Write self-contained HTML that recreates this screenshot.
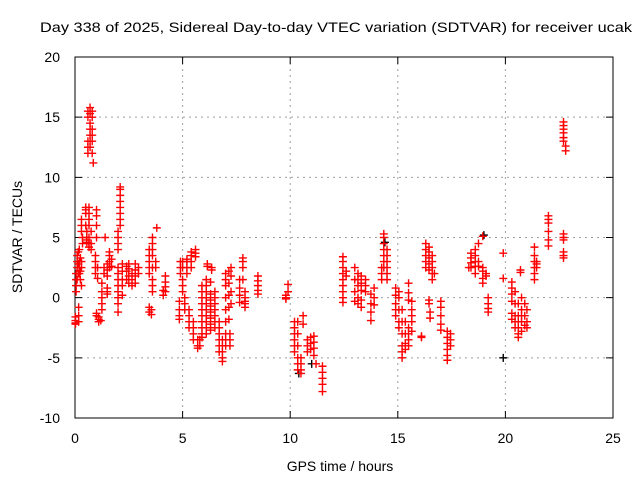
<!DOCTYPE html>
<html><head><meta charset="utf-8"><style>
html,body{margin:0;padding:0;background:#fff}
svg{display:block;font-family:"Liberation Sans",sans-serif}
</style></head><body>
<svg id="chart" width="640" height="480" viewBox="0 0 640 480" xmlns="http://www.w3.org/2000/svg">
<rect x="0" y="0" width="640" height="480" fill="#fff"/>
<text x="336" y="32" text-anchor="middle" font-size="14" textLength="592" lengthAdjust="spacingAndGlyphs">Day 338 of 2025, Sidereal Day-to-day VTEC variation (SDTVAR) for receiver ucak</text>
<g id="grid"></g>
<g id="axes"></g>
<g id="seriesB"></g>
<g id="seriesR"></g>
<text x="340" y="471" text-anchor="middle" font-size="14">GPS time / hours</text>
<text x="0" y="0" transform="translate(22,237) rotate(-90)" text-anchor="middle" font-size="14">SDTVAR / TECUs</text>
</svg>
<script>
const xTicks = [0, 5, 10, 15, 20, 25];
const yTicks = [-10, -5, 0, 5, 10, 15, 20];
const redTimes = [0.02,0.05,0.1,0.15,0.17,0.2,0.25,0.3,0.35,0.5,0.55,0.65,0.75,0.6,0.7,0.8,0.85,0.95,1.0,1.05,1.1,1.2,1.25,1.35,1.4,1.5,1.6,1.7,2.0,2.1,2.2,2.4,2.5,2.65,2.8,2.95,3.45,3.55,3.6,3.75,3.8,4.1,4.2,4.85,4.9,5.0,5.1,5.2,5.3,5.4,5.5,5.6,5.7,5.8,5.9,6.1,6.15,6.3,6.35,6.5,6.7,6.85,7.0,7.15,7.2,7.25,7.65,7.8,7.9,8.5,9.8,9.9,10.2,10.35,10.5,10.6,10.8,10.95,11.1,11.2,11.5,12.45,12.6,13.0,13.15,13.3,13.5,13.75,13.9,14.25,14.35,14.5,14.9,15.05,15.2,15.35,15.5,15.65,16.1,16.3,16.45,16.5,16.6,16.7,17.0,17.3,17.45,18.3,18.4,18.6,18.75,18.95,19.1,19.2,19.9,20.3,20.45,20.6,20.7,20.75,20.9,21.0,21.35,21.45,22.0,22.7,22.8];
const redValues = [
 [-1.6,-1.9,-2.1,-2.2],[0.5,1,1.5,2],[1.5,2.5,3,3.5],[2,2.8,3.8],[-0.8,-1.5,-2],[2,3,4,2.5],[1.5,2.2,3.3],[1,2.5,3,5.5,6,6.5],[4.5,5],
 [7.5,7.3,7,6],[5.5,5,4.8,4.6],[4.5,4.2,5,6,6.5,7,7.5],[4,4.5,5.5],[12,12.5,13,15,15.5],[15.8,15.3,14.5,14,13.5,13,12.5],[15.5,15,14,13.5,13,12],[11.2],
 [3.5,3,2.5,2],[-1.3,-1.5,7.3,6.8,6,5],[1.6,2.5],[-1.6,-1.8,-2],[-1.9],[1.2,0.5,0,-0.5,-1],[2,2.5],[5],[1.8,2.3,2.8,0.8,0.5,0.3],[3.8,3.5,3,2.5],[3.2,2.6],
 [5.5,5,4.5,4,2.5,2,1.5,1,0.5,0,-0.5,-1.2],[9.2,9,8.5,8,7.5,7,6.5,6],[2.8,2.2,1.5,1,0.2],[2.6,2.2,1.5],[2.8,2.4,1.8,1.2],[2,1.5,1],[2.8,2.3,1.8,1.2],[2.5,2.0],
 [2,2.5,3,3.5,4,-0.8,-1.2],[-1.0,-1.4],[3.5,4,4.5,5,2.5,1.5,1,0.5],[3,2.5],[5.8],[0.2,0.6],[1.8,1.3,0.9,0.5],
 [-0.3,-1,-1.5,-1.8],[2,2.5,3],[1,1.5,2.5,3,0.5],[0,-0.5,-1],[3,3.2,2.5,2],[-1,-1.5,-2,-2.5],[3.5,3.8,3,2.5],[-2,-2.5,-3,-3.5],[4,3.7,3.4],[-3.5,-4,-4.2],[-3.5,-4],
 [1,0,-1,-2,-3,-3.3,0.5,-0.5,-1.5,-2.5],[1.5,0.5,-0.5,-1.5,-2.5,-3,1,0,-1,-2],[2.8,2.6],[1.3,0.3,-0.7,-1.7,-2.7,-2.2,-1.2,-0.2],[2.5,2.3],[0.5,-0.5,-1.5,-2.5,-2,-1,0],
 [-2,-3,-4,-4.5,-2.5,-3.5],[-3.5,-4,-4.5,-5,-5.3],[2,1.5,1,0,-1,-2,-3.5,-4,-3],[2.2,1.2,0.2,-0.8,-1.8],[-3,-3.5,-4],[2.5,1.8,0.5,-0.5],
 [1.5,0.8,0.2,-0.4],[3.3,3,2.5,1.5],[0.5,-0.3,-0.8,0,-0.5],[1.8,1.4,1,0.6,0.3],[0,0.2,-0.1],[1.1,0.5],
 [-2,-2.5,-3,-3.5,-4,-4.5],[-2,-3,-4,-5,-5.5,-6],[-5,-5.5,-6,-6.3],[-1.5,-2.2],[-3.5,-4,-4.5],[-3.3,-3.8,-4.3],[-3.2,-3.7,-4.2,-4.8],[-5.5],[-5.7,-6.2,-6.7,-7.2,-7.8],
 [3.4,3,2.5,2,1.5,1,0.5,0,-0.4],[2.2,1.8],[2.5,1.5,0.5,-0.3],[2,1.5,1,0,-0.5],[1.8,1.2,0.6,-0.2,-0.8],[1.5,1,0.5],[0.3,-0.5,-1.2,-1.9],[0.8,0,-0.6],
 [1.5,2,2.5],[5.3,5,4.5,4,3.5,3,2.5],[4,3.5,3,2.5,2,1.5],[0.8,0.2,-0.5,-1,-1.5],[0.5,0,-1,-2,-2.5],[-1,-2,-3,-4,-4.5,-5],[-2,-3,-3.8,-4.3],[-2.5,-3,-3.5,-4,1.2,0.4,-0.2],[-0.3,-1,-1.5,-2,-2.8],
 [-3.2,-3.3],[4.5,4,3.5,3,2.5],[4.2,3.8,3.3,2.8,2.3,-0.2,-0.5],[-1.2,-1.7],[3.5,3,2.5,2,1.5],[2],[-0.3,-0.8,-1.5,-2.2,-2.7],[-2.8,-3.3,-3.8,-4.3,-4.8,-5.2],[-3,-3.5,-4],
 [2.5],[3.7,3.3,2.9,2.5],[4,3.5,3,2.6,2],[4.5,3,2.6],[5.1,2.5,2.2,1.6,1.2],[1.8,2],[0,-0.5,-0.9,-1.2],[3.7,1.6],
 [1.3,0.8,0.3,-0.3,-1.3,-1.8],[0.5,-0.5,-1.5,-2,-2.5],[-0.5,-1.5,-2,-2.5,-3,-3.3],[2.3,2.1],[0,-1,-1.5,-2,-2.8],[-0.5,-1.5,-2.3],[-1,-2,-2.5],
 [4.2,3.5,3,2.5,2,1.5],[3,2.5,2.8],[6.8,6.5,6.2,5.5,4.8,4.3],[14.6,14.3,14,13.7,13.3,13,5.3,5,4.8,3.8,3.5,3.3],[12.6,12.2]
];
const blackTimes = [10.4, 11.0, 14.4, 19.0, 19.9];
const blackValues = [[-6.3], [-5.5], [4.6], [5.2], [-5.0]];

const X0 = 75, X1 = 613, Y0 = 418, Y1 = 57;
const xMin = 0, xMax = 25, yMin = -10, yMax = 20;
function xs(t){ return X0 + (t - xMin) / (xMax - xMin) * (X1 - X0); }
function ys(v){ return Y0 - (v - yMin) / (yMax - yMin) * (Y0 - Y1); }
const NS = "http://www.w3.org/2000/svg";
function mk(tag, attrs, parent){ const e = document.createElementNS(NS, tag); for (const k in attrs) e.setAttribute(k, attrs[k]); parent.appendChild(e); return e; }

const grid = document.getElementById('grid');
const axes = document.getElementById('axes');
xTicks.forEach(t => {
  const x = xs(t);
  if (t > xMin && t < xMax) {
    const g = mk('line', {x1:x, x2:x, y1:Y1, y2:Y0, stroke:'#a0a0a0', 'stroke-width':1, 'stroke-dasharray':'2,4'}, grid);
    
    
  }
  const tk = mk('path', {d:`M${x},${Y0}v-7M${x},${Y1}v7`, stroke:'#000', 'stroke-width':1}, axes);
  
  
  const lb = mk('text', {x:x, y:443, 'text-anchor':'middle', 'font-size':14}, axes);
  lb.textContent = t;
  
  
});
yTicks.forEach(v => {
  const y = ys(v);
  if (v > yMin && v < yMax) {
    const g = mk('line', {x1:X0, x2:X1, y1:y, y2:y, stroke:'#a0a0a0', 'stroke-width':1, 'stroke-dasharray':'2,4'}, grid);
    
    
  }
  const tk = mk('path', {d:`M${X0},${y}h7M${X1},${y}h-7`, stroke:'#000', 'stroke-width':1}, axes);
  
  
  const lb = mk('text', {x:60, y:y+5, 'text-anchor':'end', 'font-size':14}, axes);
  lb.textContent = v;
  
  
});
const frame = mk('rect', {x:X0, y:Y1, width:X1-X0, height:Y0-Y1, fill:'none', stroke:'#000', 'stroke-width':1}, axes);



function drawSeries(times, values, color, group){
  const parent = document.getElementById(group);
  times.forEach((t, i) => {
    values[i].forEach(v => {
      const x = xs(t), y = ys(v);
      const p = mk('path', {d:`M${x-4},${y}h8M${x},${y-4}v8`, stroke:color, 'stroke-width':1.4}, parent);
      
      
    });
  });
}
drawSeries(blackTimes, blackValues, '#000', 'seriesB');
drawSeries(redTimes, redValues, '#ff0000', 'seriesR');
</script>
</body></html>
